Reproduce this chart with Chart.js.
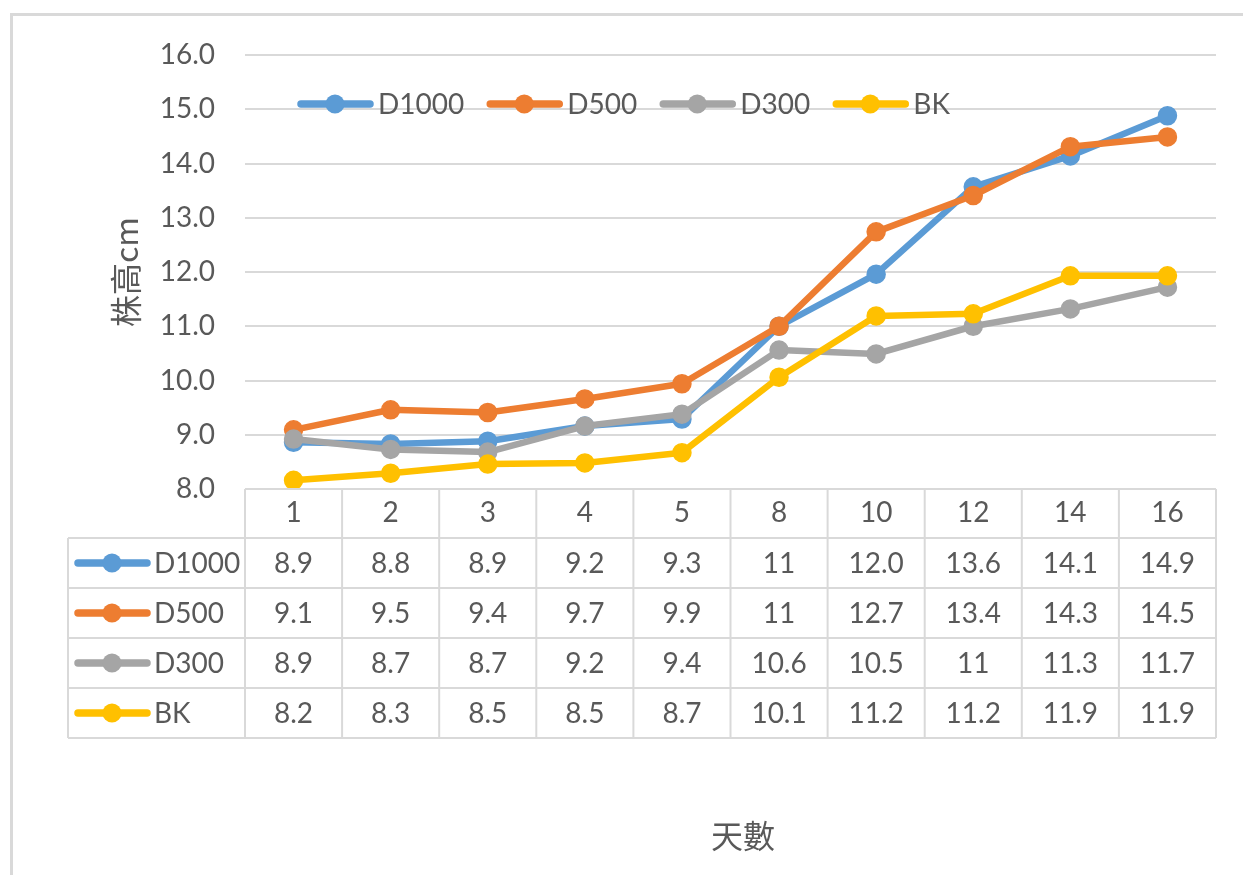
<!DOCTYPE html>
<html><head><meta charset="utf-8">
<script src="https://cdn.jsdelivr.net/npm/chart.js@4/dist/chart.umd.min.js"></script>
<style>html,body{margin:0;padding:0;background:#fff;overflow:hidden;}#wrap{position:relative;width:1243px;height:875px;}</style>
</head><body><div id="wrap"><canvas id="c" width="1243" height="875"></canvas></div>
<script>
// ---- data ----
const categories = ['1', '2', '3', '4', '5', '8', '10', '12', '14', '16'];
const seriesNames = ['D1000', 'D500', 'D300', 'BK'];
const d1000 = [8.86, 8.83, 8.88, 9.16, 9.29, 11, 11.96, 13.57, 14.14, 14.88];
const d500 = [9.09, 9.46, 9.41, 9.66, 9.94, 11, 12.74, 13.41, 14.31, 14.49];
const d300 = [8.92, 8.73, 8.68, 9.16, 9.38, 10.56, 10.49, 11, 11.32, 11.72];
const bk = [8.16, 8.29, 8.46, 8.48, 8.67, 10.06, 11.19, 11.23, 11.93, 11.93];
const yMin = 8, yMax = 16, yStep = 1;
const yTitle = '株高cm';
const xTitle = '天數';

// ---- styles ----
const colors = ['#5B9BD5', '#ED7D31', '#A5A5A5', '#FFC000'];
const seriesValues = [d1000, d500, d300, bk];
const TEXT = '#595959', GRID = '#D9D9D9';
const LATIN = "Lato, 'Open Sans', 'Liberation Sans', sans-serif";
const CJK = "'Noto Sans CJK TC', 'Noto Sans CJK SC', sans-serif";
const FS = 28;

function fmt(v) { return Number.isInteger(v) ? String(v) : v.toFixed(1); }

function marker(ctx, x, y, color) {
  ctx.save();
  ctx.strokeStyle = color; ctx.lineWidth = 7.5; ctx.lineCap = 'round';
  ctx.beginPath(); ctx.moveTo(x + 3, y); ctx.lineTo(x + 72, y); ctx.stroke();
  ctx.fillStyle = color;
  ctx.beginPath(); ctx.arc(x + 37, y, 9.5, 0, Math.PI * 2); ctx.fill();
  ctx.restore();
}

const frame = {
  id: 'frame',
  beforeDraw(chart) {
    const ctx = chart.ctx;
    ctx.save();
    ctx.fillStyle = '#fff'; ctx.fillRect(0, 0, chart.width, chart.height);
    ctx.strokeStyle = GRID; ctx.lineWidth = 3;
    ctx.beginPath();
    ctx.moveTo(11.5, chart.height); ctx.lineTo(11.5, 14.5); ctx.lineTo(chart.width, 14.5);
    ctx.stroke();
    ctx.restore();
  }
};

const legendTable = {
  id: 'legendTable',
  afterDraw(chart) {
    const ctx = chart.ctx, ca = chart.chartArea, xs = chart.scales.x;
    ctx.save();
    // legend inside plot area
    ctx.font = FS + 'px ' + LATIN;
    ctx.textBaseline = 'middle'; ctx.textAlign = 'left'; ctx.fillStyle = TEXT;
    let lx = 298; const ly = 104;
    seriesNames.forEach((n, i) => {
      marker(ctx, lx, ly, colors[i]);
      ctx.fillStyle = TEXT;
      ctx.fillText(n, lx + 80, ly + 1);
      lx += 80 + ctx.measureText(n).width + 23;
    });
    // data table
    const headerBottom = ca.bottom + 49, rowH = 50, leftX = 68;
    const n = categories.length;
    const bounds = [ca.left];
    for (let i = 0; i < n - 1; i++) bounds.push((xs.getPixelForValue(i) + xs.getPixelForValue(i + 1)) / 2);
    bounds.push(ca.right);
    const tableBottom = headerBottom + rowH * seriesNames.length;
    ctx.strokeStyle = GRID; ctx.lineWidth = 2;
    ctx.beginPath();
    ctx.moveTo(ca.left, ca.bottom); ctx.lineTo(ca.right, ca.bottom);
    for (let r = 0; r <= seriesNames.length; r++) {
      const y = headerBottom + r * rowH;
      ctx.moveTo(leftX, y); ctx.lineTo(ca.right, y);
    }
    bounds.forEach(b => { ctx.moveTo(b, ca.bottom); ctx.lineTo(b, tableBottom); });
    ctx.moveTo(leftX, headerBottom); ctx.lineTo(leftX, tableBottom);
    ctx.stroke();
    seriesNames.forEach((name, r) => {
      const cy = headerBottom + r * rowH + rowH / 2;
      marker(ctx, 75, cy, colors[r]);
      ctx.fillStyle = TEXT; ctx.textAlign = 'left';
      ctx.fillText(name, 154, cy + 1);
      ctx.textAlign = 'center';
      seriesValues[r].forEach((v, i) => ctx.fillText(fmt(v), xs.getPixelForValue(i), cy + 1));
    });
    // x axis title
    ctx.font = '32px ' + CJK;
    ctx.textAlign = 'center'; ctx.textBaseline = 'middle'; ctx.fillStyle = TEXT;
    ctx.fillText(xTitle, 743, 836);
    ctx.restore();
  }
};

new Chart(document.getElementById('c'), {
  type: 'line',
  data: {
    labels: categories,
    datasets: seriesNames.map((name, i) => ({
      label: name,
      data: seriesValues[i],
      borderColor: colors[i],
      backgroundColor: colors[i],
      pointBackgroundColor: colors[i],
      pointBorderColor: colors[i],
      borderWidth: 6.5,
      pointRadius: 9,
      pointBorderWidth: 1.5,
      borderJoinStyle: 'round',
      borderCapStyle: 'round',
      tension: 0,
      order: seriesNames.length - i,
      clip: false
    }))
  },
  options: {
    responsive: false,
    animation: false,
    devicePixelRatio: 1,
    layout: { padding: { left: 100, right: 27, top: 55, bottom: 0 } },
    plugins: { legend: { display: false }, tooltip: { enabled: false } },
    scales: {
      x: {
        type: 'category',
        offset: true,
        grid: { display: false, drawTicks: false },
        border: { display: false },
        ticks: { color: TEXT, font: { family: LATIN, size: FS }, padding: 7, maxRotation: 0, autoSkip: false },
        title: { display: false },
        afterFit(s) { s.height = 386; }
      },
      y: {
        min: yMin, max: yMax,
        grid: { color: GRID, lineWidth: 2, drawTicks: false },
        border: { display: false },
        ticks: { stepSize: yStep, color: TEXT, font: { family: LATIN, size: FS }, padding: 30, callback: v => Number(v).toFixed(1) },
        title: { display: true, text: yTitle, color: TEXT, font: { family: CJK, size: 32 }, padding: { top: 7, bottom: 0 } },
        afterFit(s) { s.width = 145; }
      }
    }
  },
  plugins: [frame, legendTable]
});
</script>
</body></html>
